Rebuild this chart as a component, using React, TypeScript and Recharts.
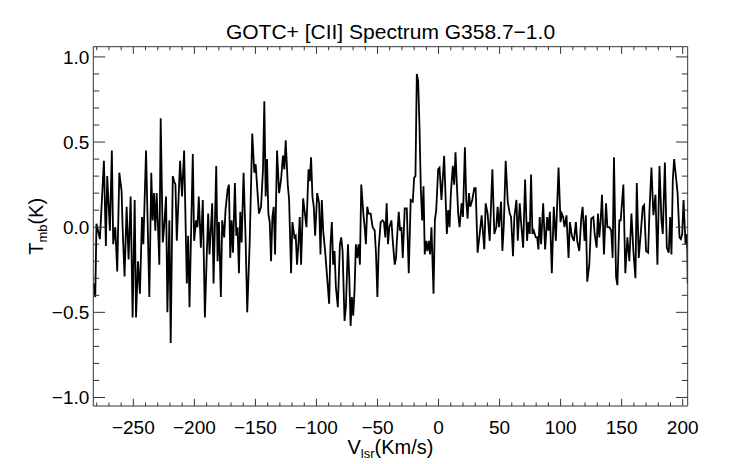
import { Label, Line, LineChart, XAxis, YAxis } from "recharts";

// velocity (km/s) and main-beam temperature (K)
const velocity = [
  -282.6, -281.2, -280.2, -277.4, -274.1, -272.5, -271.4, -269.2, -267.6, -266.5, -264.8, -263.2, -261.5, -259.6,
  -258.8, -257.2, -255.5, -253.9, -252.2, -250.6, -248.9, -247.8, -246.2, -244.6, -242.9, -241.8, -239.6, -238.5,
  -236.9, -235.3, -234.2, -233.1, -232.0, -230.9, -229.8, -228.7, -227.6, -225.9, -224.8, -223.2, -222.1,
  -220.5, -219.4, -217.7, -216.6, -215.5, -214.4, -212.8, -211.7, -210.1, -208.4, -206.2, -205.1, -204.0, -202.9,
  -201.3, -200.2, -198.6, -197.5, -196.4, -194.7, -193.1, -191.4, -189.8, -188.7, -187.6, -185.4, -184.3, -182.1,
  -181.0, -179.9, -178.3, -177.2, -175.6, -174.5, -172.8, -171.7, -170.6, -169.5, -168.4, -166.8, -165.7, -164.6,
  -163.5, -162.4, -161.3, -159.7,
  -158.0, -156.7, -154.7, -152.6, -150.9, -149.8, -148.7, -147.1, -145.4, -143.8, -142.7, -141.6, -140.5, -139.4,
  -138.3, -137.2, -136.1, -135.0, -133.9, -132.3, -130.6, -129.0, -127.4, -126.3, -125.2, -123.5, -122.4, -120.8,
  -119.7, -118.0, -117.0, -115.9, -114.8, -113.7, -112.6, -110.9, -109.8, -108.2, -106.5, -105.5, -104.4, -103.3,
  -102.2, -101.1, -99.4, -97.8, -96.7,
  -95.6, -94.5, -92.9, -91.2, -89.6, -88.5, -87.4, -86.3, -85.2, -84.1, -82.5, -80.8, -79.7, -78.6, -77.0, -75.9,
  -74.2, -73.1, -72.0, -71.0, -69.9, -68.8, -67.7, -66.6, -65.5, -64.4, -63.3, -61.6, -60.5, -59.5, -58.4, -57.3,
  -55.6, -54.0, -52.3, -51.2, -50.1, -49.0, -47.4, -45.8, -44.7, -43.6, -42.5, -41.4, -40.3, -38.6, -37.5, -35.9,
  -34.8,
  -34.3, -32.6, -31.5, -30.4, -29.3, -27.7, -26.0, -24.4, -22.8, -21.1, -20.0, -18.9, -17.8, -16.7, -15.6, -14.5,
  -13.4, -12.3, -11.3, -10.2, -9.1, -8.0, -6.9, -5.8, -4.1, -3.0, -1.9, -0.3, 0.8, 2.4, 4.6, 6.8, 7.9, 9.0, 10.1,
  11.7, 12.8, 13.9, 15.0, 16.1, 17.2, 18.9, 20.0, 21.6, 22.7, 23.8, 24.9, 26.0, 27.6,
  29.3, 30.4, 32.0, 33.7, 35.3, 37.5, 38.6, 40.2, 41.9, 44.1, 45.7, 47.3, 48.4, 49.5, 51.2, 52.3, 53.4, 55.0, 56.7,
  58.3, 59.4, 61.0, 62.1, 63.8, 64.9, 66.5, 67.6, 69.3, 70.9, 72.5, 73.6, 74.7, 75.8, 76.9, 78.0, 79.7, 80.8, 81.8,
  82.9, 84.0, 85.7, 87.3, 89.0, 90.1,
  91.2, 92.8, 94.4, 96.1, 98.3, 99.9, 101.0, 102.1, 103.2, 104.8, 106.5, 107.6, 109.2, 110.9, 112.5, 113.6, 115.3,
  116.9, 118.0, 119.6, 120.7, 121.8, 123.5, 125.1, 126.8, 127.9, 129.5, 130.6, 131.7, 132.8, 133.9, 135.5, 137.2,
  138.3, 139.9, 141.5, 142.6, 143.7, 145.4, 146.5, 148.1, 149.2, 151.4, 153.0,
  154.7, 156.3, 158.0, 159.6, 161.3, 162.4, 164.0, 165.6, 167.3, 168.4, 170.0, 171.7, 172.8, 174.4, 176.0, 177.7,
  179.3, 181.0, 182.6, 183.7, 185.4, 187.0, 188.6, 189.7, 190.8, 191.9, 193.0, 194.7, 195.8, 197.4, 198.5, 199.6,
  200.7, 202.3, 203.2, 203.8, 204.1,
];

const tmb = [
  -0.33, -0.41, 0.02, -0.07, 0.39, -0.11, 0.3, -0.02, 0.45, -0.1, 0.0, -0.26, 0.32, 0.21, 0.0, -0.29, 0.12, -0.19,
  0.18, -0.53, 0.16, -0.53, -0.2, -0.39, 0.06, -0.1, 0.45, 0.1, -0.41, 0.32, 0.04, 0.2, -0.02, 0.2, 0.0, -0.22, 0.64,
  -0.09, 0.0, 0.18, -0.5,
  0.04, -0.68, 0.3, 0.27, 0.25, -0.08, 0.2, 0.39, 0.18, 0.45, -0.33, -0.05, -0.47, -0.1, 0.43, -0.08, 0.04, 0.0, 0.18,
  -0.12, 0.16, -0.53, -0.15, 0.08, -0.16, 0.14, -0.33, 0.36, -0.2, 0.03, -0.41, 0.04, -0.06, 0.1, 0.22, 0.25, -0.18,
  0.04, -0.15, 0.26, -0.05, 0.0, -0.27, 0.09, -0.09, 0.32,
  -0.08, -0.5, -0.09, 0.55, 0.32, 0.37, 0.25, 0.08, 0.12, 0.34, 0.74, 0.18, 0.4, 0.08, 0.03, -0.2, 0.06, 0.12, -0.16,
  0.45, 0.2, 0.28, 0.42, 0.34, 0.51, 0.25, 0.16, -0.27, 0.03, -0.06, -0.05, -0.22, -0.1, 0.06, -0.22, 0.17, 0.1, 0.0,
  0.34, 0.27, 0.41, 0.18, 0.12, -0.05, 0.2, 0.14, -0.16,
  0.16, -0.02, -0.14, -0.3, -0.45, -0.1, 0.03, -0.22, -0.14, -0.35, -0.47, -0.1, -0.06, -0.14, -0.55, -0.47, -0.1,
  -0.3, -0.58, -0.41, -0.52, -0.37, -0.1, -0.18, -0.1, -0.22, 0.25, 0.08, 0.0, -0.1, 0.12, 0.08, 0.08, 0.0, -0.02,
  -0.16, -0.41, -0.12, 0.03, 0.04, 0.03, -0.06, 0.14, -0.1, 0.0, 0.04, -0.08, -0.22, -0.18,
  -0.1, 0.09, -0.02, 0.0, -0.18, 0.11, 0.11, -0.27, 0.16, 0.15, 0.29, 0.3, 0.9, 0.86, 0.59, 0.22, 0.04, 0.24, -0.16,
  -0.08, -0.14, -0.08, -0.16, 0.0, -0.39, 0.04, 0.1, 0.34, 0.35, 0.16, 0.42, -0.04, 0.1, 0.0, 0.2, 0.36, 0.25, 0.44,
  0.25, 0.08, 0.0, 0.14, 0.06, 0.47, 0.16, 0.05, 0.2, 0.12, 0.16,
  0.23, 0.23, -0.15, -0.04, 0.07, -0.13, 0.14, 0.08, -0.08, 0.34, -0.04, 0.0, 0.12, 0.0, 0.15, -0.14, 0.0, 0.39, 0.15,
  0.08, 0.06, -0.17, 0.06, 0.16, -0.08, 0.14, 0.03, -0.12, 0.28, -0.08, 0.03, -0.04, 0.31, -0.04, -0.02, -0.06, -0.06,
  -0.13, 0.06, -0.1, 0.14, -0.13, 0.06, -0.02,
  0.09, -0.27, 0.12, -0.08, 0.35, 0.03, 0.08, 0.06, 0.0, 0.07, -0.18, 0.03, -0.05, -0.08, 0.03, -0.08, -0.14, 0.05,
  0.12, -0.08, 0.07, -0.32, -0.22, 0.05, 0.06, -0.04, -0.12, 0.08, -0.06, 0.04, 0.19, -0.16, 0.14, 0.0, 0.0, -0.02,
  -0.18, 0.41, -0.29, -0.34, 0.04, 0.04, 0.25, -0.27,
  -0.06, -0.2, 0.08, -0.14, -0.3, 0.26, -0.18, -0.04, 0.12, 0.13, -0.14, -0.15, 0.1, 0.35, 0.07, 0.19, -0.22, 0.36,
  0.04, -0.04, 0.38, -0.12, -0.15, 0.06, -0.16, 0.28, 0.4, 0.28, 0.2, -0.06, -0.07, -0.04, 0.16, -0.1, -0.04, -0.14,
  -0.33,
];

const xTicks = [
  -280, -270, -260, -250, -240, -230, -220, -210, -200, -190, -180, -170, -160, -150, -140, -130, -120, -110, -100,
  -90, -80, -70, -60, -50, -40, -30, -20, -10, 0, 10, 20, 30, 40, 50, 60, 70, 80, 90, 100, 110, 120, 130, 140, 150,
  160, 170, 180, 190, 200,
];
const yTicks = [
  -1.0, -0.9, -0.8, -0.7, -0.6, -0.5, -0.4, -0.3, -0.2, -0.1, 0.0, 0.1, 0.2, 0.3, 0.4, 0.5, 0.6, 0.7, 0.8, 0.9, 1.0,
];

const title = "GOTC+ [CII] Spectrum G358.7\u22121.0";

const data = velocity.map((v, i) => ({ v, t: tmb[i] }));

const FONT = "'Liberation Sans', Arial, Helvetica, sans-serif";
const AXIS = "#333";

const isMajorX = (v: number) => v % 50 === 0;
const isMajorY = (v: number) => Math.abs(v * 2 - Math.round(v * 2)) < 1e-6;
const minus = (s: string) => s.replace("-", "\u2212");

function BottomTick({ x, y, payload }: any) {
  const major = isMajorX(payload.value);
  return (
    <g>
      <line x1={x} x2={x} y1={y} y2={y - (major ? 7.2 : 3.6)} stroke={AXIS} strokeWidth={1} />
      {major && (
        <text x={x} y={y + 28} textAnchor="middle" fontSize={19} fontFamily={FONT} fill="#000">
          {minus(String(payload.value))}
        </text>
      )}
    </g>
  );
}

function TopTick({ x, y, payload }: any) {
  const major = isMajorX(payload.value);
  return <line x1={x} x2={x} y1={y} y2={y + (major ? 7.2 : 3.6)} stroke={AXIS} strokeWidth={1} />;
}

function LeftTick({ x, y, payload }: any) {
  const major = isMajorY(payload.value);
  return (
    <g>
      <line x1={x} x2={x + (major ? 11.8 : 5.9)} y1={y} y2={y} stroke={AXIS} strokeWidth={1} />
      {major && (
        <text x={x - 4} y={y + 6.8} textAnchor="end" fontSize={19} fontFamily={FONT} fill="#000">
          {minus(payload.value.toFixed(1))}
        </text>
      )}
    </g>
  );
}

function RightTick({ x, y, payload }: any) {
  const major = isMajorY(payload.value);
  return <line x1={x} x2={x - (major ? 11.8 : 5.9)} y1={y} y2={y} stroke={AXIS} strokeWidth={1} />;
}

function XTitle({ viewBox }: any) {
  const { x, y, width } = viewBox;
  return (
    <text x={x + width / 2} y={y + 47.5} textAnchor="middle" fontSize={20} fontFamily={FONT} fill="#000">
      <tspan>V</tspan>
      <tspan fontSize={13} dy={4.5}>lsr</tspan>
      <tspan dy={-4.5}>(Km/s)</tspan>
    </text>
  );
}

function YTitle({ viewBox }: any) {
  const { x, y, height } = viewBox;
  const cx = x + 9.7;
  const cy = y + height / 2;
  return (
    <text
      x={cx}
      y={cy}
      transform={`rotate(-90, ${cx}, ${cy})`}
      textAnchor="middle"
      fontSize={20}
      fontFamily={FONT}
      fill="#000"
    >
      <tspan>T</tspan>
      <tspan fontSize={13} dy={4.5}>mb</tspan>
      <tspan dy={-4.5}>(K)</tspan>
    </text>
  );
}

function Title({ viewBox }: any) {
  const { x, y, width } = viewBox;
  return (
    <text x={x + width / 2} y={y + 2.6} textAnchor="middle" fontSize={21} fontFamily={FONT} fill="#000">
      {title}
    </text>
  );
}

export default function App() {
  return (
    <div style={{ position: "absolute", left: 0, top: 0, width: 742, height: 464, background: "#fff" }}>
      <LineChart width={742} height={464} data={data} margin={{ top: 36.7, right: 44.3, bottom: 18, left: 33.3 }}>
        <XAxis
          dataKey="v"
          type="number"
          domain={[-282.8, 204.1]}
          allowDataOverflow
          ticks={xTicks}
          interval={0}
          height={40}
          tickSize={0}
          tickMargin={0}
          tickLine={false}
          axisLine={{ stroke: AXIS, strokeWidth: 1 }}
          tick={<BottomTick />}
        >
          <Label content={<XTitle />} />
        </XAxis>
        <XAxis
          xAxisId="top"
          orientation="top"
          dataKey="v"
          type="number"
          domain={[-282.8, 204.1]}
          allowDataOverflow
          ticks={xTicks}
          interval={0}
          height={10}
          tickSize={0}
          tickMargin={0}
          tickLine={false}
          axisLine={{ stroke: AXIS, strokeWidth: 1 }}
          tick={<TopTick />}
        >
          <Label content={<Title />} />
        </XAxis>
        <YAxis
          type="number"
          domain={[-1.05, 1.06]}
          allowDataOverflow
          ticks={yTicks}
          interval={0}
          width={60}
          tickSize={0}
          tickMargin={0}
          tickLine={false}
          axisLine={{ stroke: AXIS, strokeWidth: 1 }}
          tick={<LeftTick />}
        >
          <Label content={<YTitle />} />
        </YAxis>
        <YAxis
          yAxisId="right"
          orientation="right"
          type="number"
          domain={[-1.05, 1.06]}
          allowDataOverflow
          ticks={yTicks}
          interval={0}
          width={10}
          tickSize={0}
          tickMargin={0}
          tickLine={false}
          axisLine={{ stroke: AXIS, strokeWidth: 1 }}
          tick={<RightTick />}
        />
        <Line
          dataKey="t"
          type="linear"
          stroke="#000"
          strokeWidth={1.8}
          dot={false}
          activeDot={false}
          isAnimationActive={false}
        />
      </LineChart>
    </div>
  );
}
